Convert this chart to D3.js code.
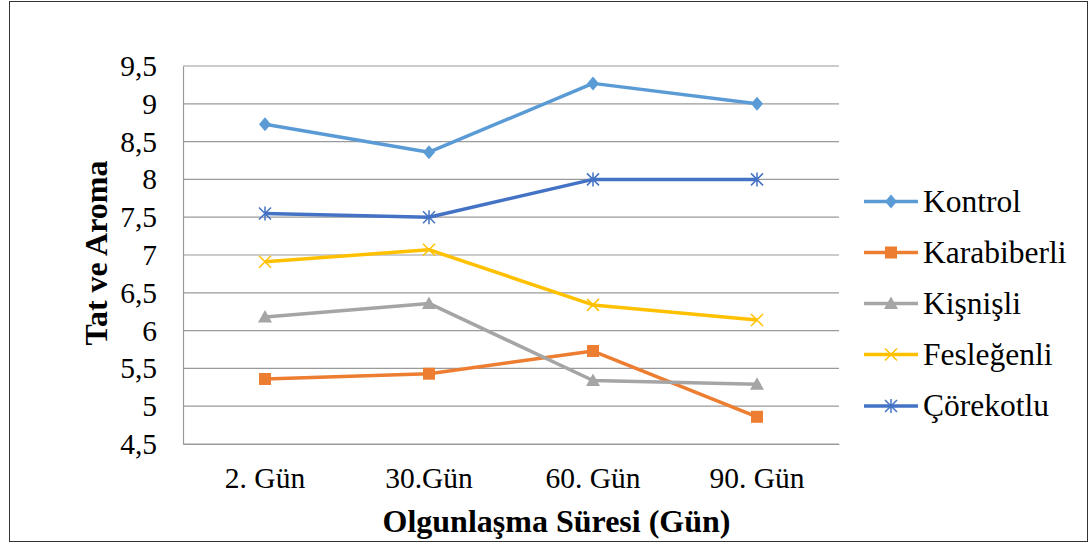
<!DOCTYPE html>
<html><head><meta charset="utf-8">
<script src="https://cdn.jsdelivr.net/npm/d3@7"></script>
<style>body{margin:0;background:#fff}svg{display:block}svg text{font-family:"Liberation Serif","Times New Roman",serif}</style>
</head><body>
<svg id="c" width="1091" height="544"></svg>
<script>
const categories = ["2. Gün", "30.Gün", "60. Gün", "90. Gün"];
const seriesNames = ["Kontrol", "Karabiberli", "Kişnişli", "Fesleğenli", "Çörekotlu"];
const kontrol = [8.73, 8.36, 9.27, 9.0];
const karabiberli = [5.36, 5.43, 5.73, 4.86];
const kisnisli = [6.18, 6.36, 5.34, 5.29];
const feslegenli = [6.91, 7.07, 6.34, 6.14];
const corekotlu = [7.55, 7.5, 8.0, 8.0];
const yTicks = [4.5, 5, 5.5, 6, 6.5, 7, 7.5, 8, 8.5, 9, 9.5];
const colors = ["#5B9BD5", "#ED7D31", "#A5A5A5", "#FFC000", "#4472C4"];
const markers = ["diamond", "square", "triangle", "x", "star"];
const values = [kontrol, karabiberli, kisnisli, feslegenli, corekotlu];

const svg = d3.select("#c");
const font = "'Liberation Serif','Times New Roman',serif";
svg.append("rect").attr("x", 9.5).attr("y", 1.5).attr("width", 1078).attr("height", 540)
  .attr("fill", "#fff").attr("stroke", "#333").attr("stroke-width", 1);

const L = 183, R = 839, T = 66, B = 444;
const x = d3.scaleBand().domain(categories).range([L, R]);
const y = d3.scaleLinear().domain([4.5, 9.5]).range([B, T]);

// gridlines
svg.append("g").selectAll("line").data(yTicks).join("line")
  .attr("x1", L).attr("x2", R).attr("y1", d => y(d)).attr("y2", d => y(d))
  .attr("stroke", "#9a9a9a").attr("stroke-width", 1.2);

// y axis
const yAxis = svg.append("g").attr("transform", `translate(${L},0)`)
  .call(d3.axisLeft(y).tickValues(yTicks).tickSize(0).tickPadding(26)
    .tickFormat(d => String(d).replace(".", ",")));
yAxis.attr("font-family", null);
yAxis.select(".domain").attr("stroke", "#9a9a9a").attr("stroke-width", 1.2);
yAxis.selectAll("text").style("font-family", font).style("font-size", "29.5px").attr("fill", "#000");

// x axis
const xAxis = svg.append("g").attr("transform", `translate(0,${B})`)
  .call(d3.axisBottom(x).tickSize(0).tickPadding(23));
xAxis.attr("font-family", null);
xAxis.select(".domain").attr("stroke", "#9a9a9a").attr("stroke-width", 1.2);
xAxis.selectAll("text").style("font-family", font).style("font-size", "29.5px").attr("fill", "#000");

// titles
svg.append("text").attr("x", 556.5).attr("y", 532).attr("text-anchor", "middle")
  .style("font-family", font).style("font-size", "32px").attr("font-weight", "bold")
  .text("Olgunlaşma Süresi (Gün)");
svg.append("text").attr("transform", "translate(107,253) rotate(-90)").attr("text-anchor", "middle")
  .style("font-family", font).style("font-size", "32px").attr("font-weight", "bold")
  .text("Tat ve Aroma");

function drawMarker(g, type, cx, cy, color) {
  if (type === "diamond") {
    g.append("path").attr("d", `M${cx},${cy-7}L${cx+6},${cy}L${cx},${cy+7}L${cx-6},${cy}Z`).attr("fill", color);
  } else if (type === "square") {
    g.append("rect").attr("x", cx-6).attr("y", cy-6).attr("width", 12).attr("height", 12).attr("fill", color);
  } else if (type === "triangle") {
    g.append("path").attr("d", `M${cx},${cy-7}L${cx+7},${cy+5.5}L${cx-7},${cy+5.5}Z`).attr("fill", color);
  } else if (type === "x") {
    g.append("path").attr("d", `M${cx-6},${cy-6}L${cx+6},${cy+6}M${cx-6},${cy+6}L${cx+6},${cy-6}`)
      .attr("stroke", color).attr("stroke-width", 1.5);
  } else if (type === "star") {
    g.append("path").attr("d", `M${cx-6},${cy-6}L${cx+6},${cy+6}M${cx-6},${cy+6}L${cx+6},${cy-6}M${cx},${cy-7}L${cx},${cy+7}`)
      .attr("stroke", color).attr("stroke-width", 1.5);
  }
}

const line = d3.line().x((d, i) => x(categories[i]) + x.bandwidth() / 2).y(d => y(d));
values.forEach((vals, s) => {
  const g = svg.append("g");
  g.append("path").datum(vals).attr("d", line).attr("fill", "none")
    .attr("stroke", colors[s]).attr("stroke-width", 3.5).attr("stroke-linejoin", "round");
  vals.forEach((v, i) => drawMarker(g, markers[s], x(categories[i]) + x.bandwidth() / 2, y(v), colors[s]));
});

// legend
const legY = [201.5, 252.5, 303.5, 354.5, 406];
seriesNames.forEach((name, s) => {
  const g = svg.append("g");
  const ly = legY[s];
  g.append("line").attr("x1", 864).attr("x2", 918).attr("y1", ly).attr("y2", ly)
    .attr("stroke", colors[s]).attr("stroke-width", 3.5);
  drawMarker(g, markers[s], 891, ly, colors[s]);
  g.append("text").attr("x", 923).attr("y", ly + 10).style("font-family", font)
    .style("font-size", "31.5px").attr("fill", "#000").text(name);
});
</script>
</body></html>
